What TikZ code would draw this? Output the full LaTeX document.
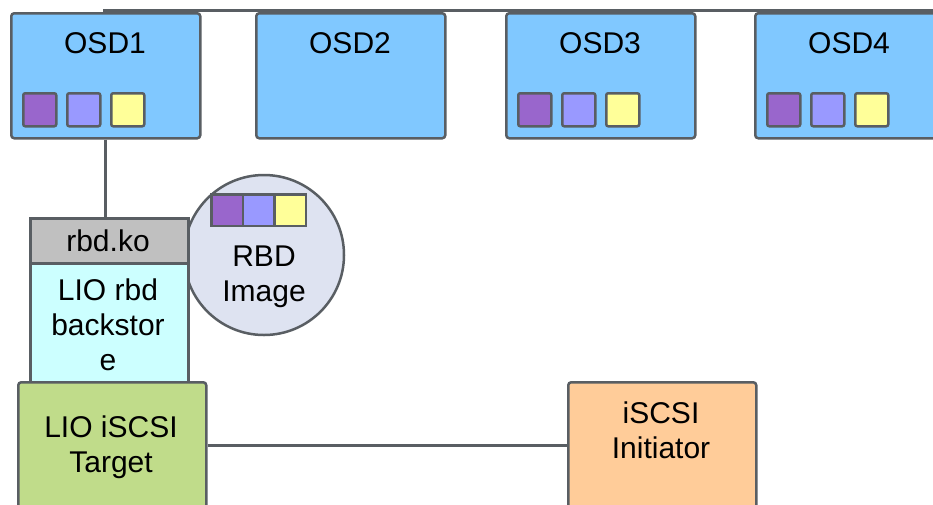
\documentclass[tikz,border=0pt]{standalone}
\usepackage{fontspec}
\setmainfont{Liberation Sans}
\definecolor{edgegray}{HTML}{595E63}
\definecolor{osdblue}{HTML}{80C8FF}
\definecolor{kogray}{HTML}{C0C0C0}
\definecolor{storecyan}{HTML}{CCFFFF}
\definecolor{targetgreen}{HTML}{C0DC8A}
\definecolor{initorange}{HTML}{FFCC99}
\definecolor{imgfill}{HTML}{DEE3F1}
\definecolor{objpurple}{HTML}{9966CC}
\definecolor{objblue}{HTML}{9999FF}
\definecolor{objyellow}{HTML}{FFFF99}
\tikzset{
  box/.style={draw=edgegray, line width=2.5pt, anchor=north west, inner sep=0pt},
  osd/.style={box, fill=osdblue, rounded corners=3pt, minimum width=189pt, minimum height=125pt},
  obj/.style={box, rounded corners=2pt, minimum size=33pt},
  wire/.style={draw=edgegray, line width=3pt},
  txt/.style={font=\fontsize{30}{35}\selectfont, align=center, inner sep=0pt}
}

\begin{document}
\begin{tikzpicture}[x=1pt,y=-1pt]
\useasboundingbox (0,0) rectangle (933,504);
\clip (0,0) rectangle (933,504);
\fill[white] (0,0) rectangle (933,504);
% bus along the top
\coordinate (busL) at (103,10);
\coordinate (busR) at (940,10);
\draw[wire] (busL) -- (busR);
% OSDs
\foreach \x/\n in {10/1, 255/2, 505/3, 754/4} {
  \node (osd\n) [osd] at (\x,12) {};
  \node (osd\n lbl) [txt] at (\x+95,43) {OSD\n};
}
\foreach \x/\n in {10/1, 505/3, 754/4}
  \foreach \c [count=\i] in {objpurple, objblue, objyellow}
    \node (obj\n\i) [obj, fill=\c] at ({\x+12+44*(\i-1)},92) {};
% RBD image
\node (rbdimg) [circle, draw=edgegray, fill=imgfill, line width=2.5pt, minimum size=160pt, inner sep=0pt] at (264,255) {};
\foreach \c [count=\i] in {objpurple, objblue, objyellow}
  \node (img\i) [box, fill=\c, minimum size=31.5pt] at ({210+31.5*(\i-1)},193) {};
\node (rbdimglbl) [txt] at (264,277) {RBD\\Image};
% client stack
\node (rbdko) [box, fill=kogray, minimum width=158pt, minimum height=45pt] at (29,217) {};
\node (rbdkolbl) [txt] at (108,241) {rbd.ko};
\node (store) [box, fill=storecyan, minimum width=158pt, minimum height=119pt] at (29,262) {};
\node (storelbl) [txt] at (108,325) {LIO rbd\\backstor\\e};
\node (target) [box, fill=targetgreen, rounded corners=3pt, minimum width=188pt, minimum height=126pt] at (17,381) {};
\node (targetlbl) [txt] at (111,447) {LIO iSCSI\\Target};
\node (initiator) [box, fill=initorange, rounded corners=3pt, minimum width=188pt, minimum height=126pt] at (567,381) {};
\node (initiatorlbl) [txt] at (661,430) {iSCSI\\Initiator};
% links
\draw[wire] (osd1.south) -- (osd1.south |- rbdko.north);
\draw[wire] (target) -- (initiator);
\end{tikzpicture}
\end{document}
